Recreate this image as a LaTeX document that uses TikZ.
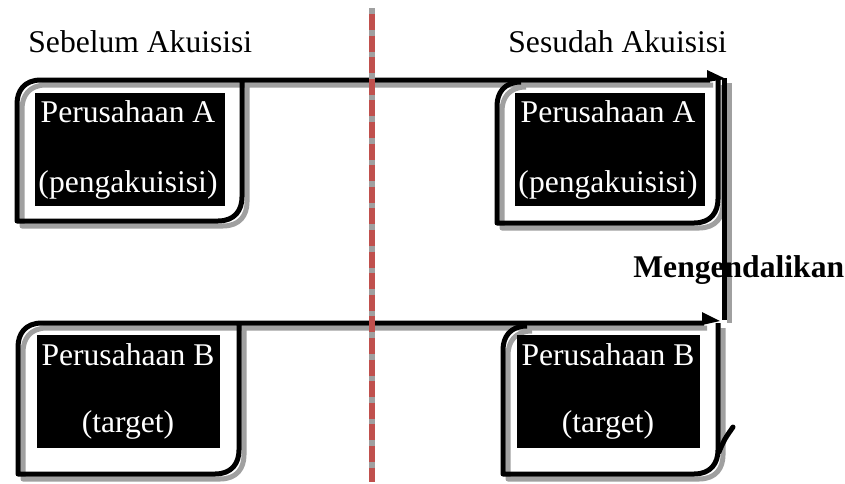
\documentclass[tikz,border=0pt]{standalone}
\usepackage{fontspec}
\setmainfont{Liberation Serif}
\definecolor{divred}{HTML}{C0504D}
\definecolor{shadowgray}{HTML}{A0A0A0}
\begin{document}
\begin{tikzpicture}[x=0.5pt,y=-0.5pt,
  every node/.style={font=\fontsize{15.8}{19}\selectfont, inner sep=0pt},
  outline/.style={line width=2.5pt, line join=round},
  blackbox/.style={fill=black, anchor=north west, minimum height=56.5pt},
  whitetxt/.style={text=white, anchor=base},
  headtxt/.style={anchor=base west}
]
\useasboundingbox (0,0) rectangle (845,483);

\def\pathLA{(242,80) -- (242,197) .. controls (242,210) and (235,221) .. (218,221) -- (17,221) -- (17,104) .. controls (17,91) and (24,80) .. (41,80)}
\def\pathRA{(718,80) -- (718,199) .. controls (718,212) and (711,223) .. (694,223) -- (497,223) -- (497,106) .. controls (497,93) and (504,82) .. (521,82)}
\def\pathLB{(239,323) -- (239,450) .. controls (239,463) and (232,474) .. (215,474) -- (18,474) -- (18,347) .. controls (18,334) and (25,323) .. (42,323)}
\def\pathRB{(718,323) -- (718,450) .. controls (718,463) and (711,474) .. (694,474) -- (503,474) -- (503,350) .. controls (503,337) and (510,326) .. (527,326)}

% ---------- shadows ----------
\begin{scope}[shift={(5,5)}, draw=shadowgray]
\draw[outline] \pathLA -- (708,80);
\draw[outline] \pathRA;
\draw[outline] (724,78) -- (724,318);
\draw[outline] \pathLB -- (702,323);
\draw[outline] \pathRB;
\end{scope}

% ---------- headers ----------
\node[headtxt] (hbefore) at (28,52) {Sebelum Akuisisi};
\node[headtxt] (hafter) at (508,52) {Sesudah Akuisisi};

% ---------- outlines row A ----------
\draw[outline] \pathLA -- (710,80);
\draw[outline] \pathRA;
\fill (707,70) -- (726,79) -- (707,82) -- cycle;

% ---------- outlines row B ----------
\draw[outline] \pathLB -- (704,323);
\draw[outline] \pathRB;
\fill (702,312) -- (720,321) -- (702,325) -- cycle;
\draw[outline, line cap=round] (733,427) .. controls (724,440) .. (719,452);

% ---------- black boxes ----------
\node[blackbox, minimum width=95pt] (boxA1) at (35,93) {};
\node[blackbox, minimum width=95pt] (boxA2) at (515,93) {};
\node[blackbox, minimum width=91.5pt] (boxB1) at (37,335) {};
\node[blackbox, minimum width=91.5pt] (boxB2) at (517,335) {};

\node[whitetxt] (a1l1) at (128,122) {Perusahaan A};
\node[whitetxt] (a1l2) at (128,192) {(pengakuisisi)};
\node[whitetxt] (a2l1) at (608,122) {Perusahaan A};
\node[whitetxt] (a2l2) at (608,192) {(pengakuisisi)};
\node[whitetxt] (b1l1) at (128,365) {Perusahaan B};
\node[whitetxt] (b1l2) at (128,432) {(target)};
\node[whitetxt] (b2l1) at (608,365) {Perusahaan B};
\node[whitetxt] (b2l2) at (608,432) {(target)};

% ---------- control label and line ----------
\node[headtxt, font=\fontsize{15.8}{19}\selectfont\bfseries] (ctrl) at (633,277) {Mengendalikan};
\draw[outline] (724,78) -- (724,320);

% ---------- divider ----------
\coordinate (dtop) at (372,8);
\coordinate (dbot) at (372,482);
\draw[line width=2.6pt, draw=shadowgray] (dtop) -- (dbot);
\draw[line width=2.6pt, draw=divred, dash pattern=on 8pt off 2.8pt] ([yshift=-3pt]dtop) -- (dbot);
\end{tikzpicture}
\end{document}
